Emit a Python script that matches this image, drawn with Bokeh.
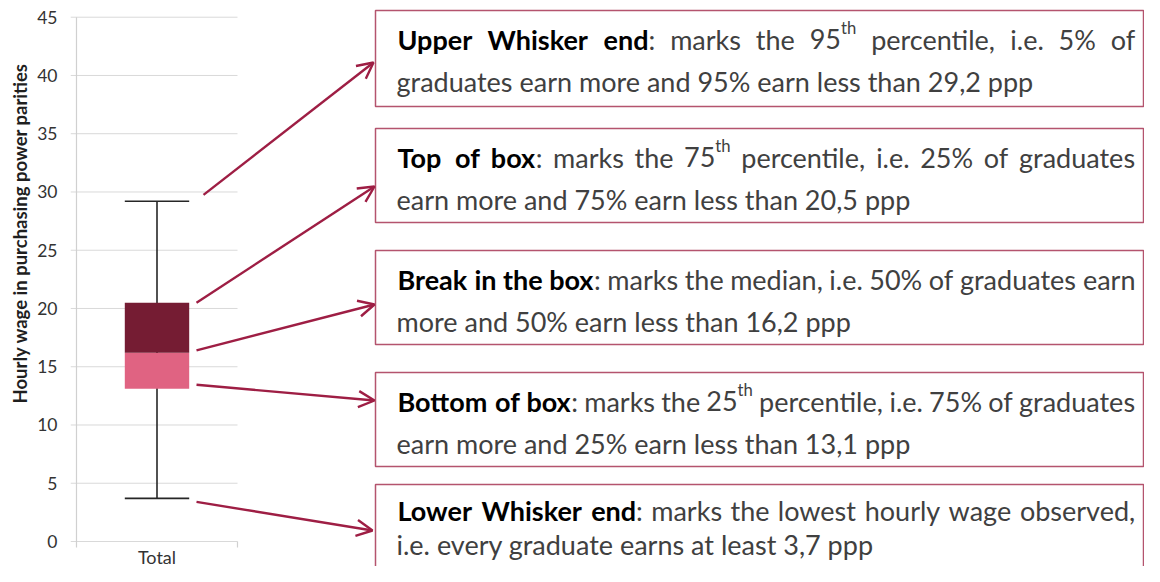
import os
import struct

from bokeh.plotting import figure
from bokeh.models import Range1d, LinearAxis, FixedTicker, ColumnDataSource, Arrow, OpenHead, Title
from bokeh.core.properties import value
from bokeh.embed import file_html
from bokeh.resources import INLINE

# ---------------- data ----------------
categories = ["Total"]
lower_whisker = [3.7]
q1 = [13.1]
median = [16.2]
q3 = [20.5]
upper_whisker = [29.2]
y_ticks = [0, 5, 10, 15, 20, 25, 30, 35, 40, 45]
y_title = "Hourly wage in purchasing power parities"


def fmt(v):
    return f"{v:.1f}".replace(".", ",")


# annotation texts (first line justified, second line left aligned)
notes = [
    ([("Upper Whisker end", "b"), (": marks the 95", "n"), ("th", "s"), (" percentile, i.e. 5% of", "n")],
     f"graduates earn more and 95% earn less than {fmt(upper_whisker[0])} ppp"),
    ([("Top of box", "b"), (": marks the 75", "n"), ("th", "s"), (" percentile, i.e. 25% of graduates", "n")],
     f"earn more and 75% earn less than {fmt(q3[0])} ppp"),
    ([("Break in the box", "b"), (": marks the median, i.e. 50% of graduates earn", "n")],
     f"more and 50% earn less than {fmt(median[0])} ppp"),
    ([("Bottom of box", "b"), (": marks the 25", "n"), ("th", "s"), (" percentile, i.e. 75% of graduates", "n")],
     f"earn more and 25% earn less than {fmt(q1[0])} ppp"),
    ([("Lower Whisker end", "b"), (": marks the lowest hourly wage observed,", "n")],
     f"i.e. every graduate earns at least {fmt(lower_whisker[0])} ppp"),
]
arrow_values = [upper_whisker[0], q3[0], median[0], q1[0], lower_whisker[0]]

# ---------------- layout helpers (canvas pixel -> data) ----------------
PX_X0, PX_PER_X = 76.0, 161.0
PX_Y0, PX_PER_Y = 541.0, 11.651


def X(px):
    return (px - PX_X0) / PX_PER_X


def Y(py):
    return (PX_Y0 - py) / PX_PER_Y


# ---------------- font metrics ----------------
def _u16(d, o):
    return struct.unpack(">H", d[o:o + 2])[0]


def _i16(d, o):
    return struct.unpack(">h", d[o:o + 2])[0]


def _u32(d, o):
    return struct.unpack(">I", d[o:o + 4])[0]


def font_advances(path):
    d = open(path, "rb").read()
    base = _u32(d, 12) if d[:4] == b"ttcf" else 0
    n = _u16(d, base + 4)
    tab = {}
    for i in range(n):
        r = base + 12 + 16 * i
        tab[d[r:r + 4].decode("latin1")] = _u32(d, r + 8)
    upem = _u16(d, tab["head"] + 18)
    nhm = _u16(d, tab["hhea"] + 34)
    hm = tab["hmtx"]
    cm = tab["cmap"]
    sub = None
    for i in range(_u16(d, cm + 2)):
        pid = _u16(d, cm + 4 + 8 * i)
        eid = _u16(d, cm + 6 + 8 * i)
        off = _u32(d, cm + 8 + 8 * i)
        if _u16(d, cm + off) == 4 and ((pid == 3 and eid == 1) or pid == 0):
            sub = cm + off
            break
    segx2 = _u16(d, sub + 6)
    ends = sub + 14
    starts = ends + segx2 + 2
    deltas = starts + segx2
    ros = deltas + segx2
    adv = {}
    for code in range(32, 127):
        gid = 0
        for k in range(segx2 // 2):
            if _u16(d, ends + 2 * k) >= code:
                st = _u16(d, starts + 2 * k)
                if st <= code:
                    ro = _u16(d, ros + 2 * k)
                    if ro == 0:
                        gid = (code + _i16(d, deltas + 2 * k)) & 0xFFFF
                    else:
                        g = _u16(d, ros + 2 * k + ro + 2 * (code - st))
                        gid = ((g + _i16(d, deltas + 2 * k)) & 0xFFFF) if g else 0
                break
        i = min(gid, nhm - 1)
        adv[chr(code)] = _u16(d, hm + 4 * i) / upem
    return adv


def find_font(fname):
    roots = ("/usr/share/fonts", "/usr/local/share/fonts",
             os.path.expanduser("~/.fonts"), os.path.expanduser("~/.local/share/fonts"))
    for root in roots:
        if os.path.isdir(root):
            for dp, dn, fn in os.walk(root):
                if fname in fn:
                    return os.path.join(dp, fname)
    return None


def approx_adv(scale):
    t = {}
    for code in range(32, 127):
        c = chr(code)
        if c == " ":
            w = 0.19
        elif c in "il.,:;'!|":
            w = 0.23
        elif c in "jftr":
            w = 0.33
        elif c in "mw%":
            w = 0.8
        elif c.isdigit():
            w = 0.58
        elif c.isupper():
            w = 0.65
        else:
            w = 0.51
        t[c] = w * scale
    return t


try:
    ADV_R = font_advances(find_font("Lato-Regular.ttf"))
except Exception:
    ADV_R = approx_adv(1.0)
try:
    ADV_B = font_advances(find_font("Lato-Bold.ttf"))
except Exception:
    ADV_B = {k: v * 1.03 for k, v in ADV_R.items()}


def em_width(t, adv):
    return sum(adv.get(c, 0.55) for c in t)


# font size fitted to the natural (left aligned) second lines
line2_targets = [637, 514, 454, 514, 480]
fits = [tw / em_width(n[1], ADV_R) for n, tw in zip(notes, line2_targets)]
SIZE = max(20.0, min(28.0, sum(fits) / len(fits)))
SUP = 0.62 * SIZE
SUP_RAISE = 0.42 * SIZE


def piece_w(t, st):
    if st == "b":
        return em_width(t, ADV_B) * SIZE
    if st == "s":
        return em_width(t, ADV_R) * SUP
    return em_width(t, ADV_R) * SIZE


# ---------------- figure ----------------
W, H = 1144, 566
FRAME_LEFT = 70
p = figure(width=W, height=H, output_backend="svg", toolbar_location=None,
           x_range=Range1d(X(FRAME_LEFT), X(W)), y_range=Range1d(Y(H), Y(0)),
           x_axis_location=None, y_axis_location=None, title=None,
           min_border_left=FRAME_LEFT, min_border_right=0, min_border_top=0, min_border_bottom=0)
p.outline_line_color = None
p.background_fill_color = "white"
p.border_fill_color = "white"
for g in list(p.renderers) + list(p.center):
    if g.__class__.__name__ == "Grid":
        g.visible = False

yaxis = LinearAxis(ticker=FixedTicker(ticks=y_ticks))
yaxis.axis_line_color = None
yaxis.major_tick_line_color = None
yaxis.minor_tick_line_color = None
yaxis.major_tick_out = 0
yaxis.major_tick_in = 0
yaxis.major_label_standoff = 13
yaxis.major_label_text_font = "Lato"
yaxis.major_label_text_font_size = "17.5px"
yaxis.major_label_text_color = "#333333"
p.add_layout(yaxis, "left")

# y axis title: starts (bottom end) at y=403 like the reference
p.add_layout(Title(text=y_title, align="left", offset=H - 403, text_font="Lato", text_font_style="bold",
                   text_font_size="18.5px", text_color="#1f1f1f", standoff=8), "left")

GRID = "#d9d9d9"
# horizontal gridlines (start with the outward tick)
p.segment(x0=[X(FRAME_LEFT)] * len(y_ticks), x1=[len(categories)] * len(y_ticks), y0=y_ticks, y1=y_ticks,
          line_color=GRID, line_width=1)
# vertical axis line and category boundary ticks
tick_drop = Y(547)
p.segment(x0=[0], x1=[0], y0=[tick_drop], y1=[y_ticks[-1]], line_color="#d0d0d0", line_width=1.2)
p.segment(x0=[len(categories)], x1=[len(categories)], y0=[tick_drop], y1=[0],
          line_color="#d0d0d0", line_width=1.2)

# box plot
xc = [i + 0.5 for i in range(len(categories))]
half = 0.2
src = ColumnDataSource(dict(x=xc, lw=lower_whisker, q1=q1, med=median, q3=q3, uw=upper_whisker,
                            l=[v - half for v in xc], r=[v + half for v in xc]))
p.segment(x0="x", x1="x", y0="lw", y1="uw", source=src, line_color="#262626", line_width=1.6)
p.segment(x0="l", x1="r", y0="uw", y1="uw", source=src, line_color="#262626", line_width=1.6)
p.segment(x0="l", x1="r", y0="lw", y1="lw", source=src, line_color="#262626", line_width=1.6)
p.quad(left="l", right="r", bottom="q1", top="med", source=src, fill_color="#e06382", line_color=None)
p.quad(left="l", right="r", bottom="med", top="q3", source=src, fill_color="#751c33", line_color=None)

# category label
p.text(x=xc, y=[Y(556)] * len(categories), text=categories, text_font=value("Lato"),
       text_font_size=value("18px"), text_color="#333333", text_align="center", text_baseline="middle")

# annotation boxes
box_tops = [10, 128, 250, 372, 484]
box_bottoms = [106, 222, 344, 466, 600]
base1_off = [28.5, 28.5, 28.5, 28.5, 26]
base2_off = [71, 71, 71, 71, 60]
BOX_L, BOX_R = 375, 1143
p.quad(left=[X(BOX_L)] * 5, right=[X(BOX_R)] * 5, top=[Y(t) for t in box_tops],
       bottom=[Y(b) for b in box_bottoms], fill_color=None, line_color="#b4546e", line_width=1.5)

# annotation text
styles = {"b": dict(x=[], y=[], t=[]), "n": dict(x=[], y=[], t=[]), "s": dict(x=[], y=[], t=[])}
L1_X0, L1_X1, L2_X0 = 397, 1135, 396
for (pieces, line2), top, o1, o2 in zip(notes, box_tops, base1_off, base2_off):
    base1 = top + o1
    base2 = top + o2
    words = [[]]
    for text, st in pieces:
        parts = text.split(" ")
        for i, part in enumerate(parts):
            if i > 0:
                words.append([])
            if part:
                words[-1].append((part, st))
    words = [w for w in words if w]
    total = sum(piece_w(t, st) for w in words for t, st in w)
    gap = (L1_X1 - L1_X0 - total) / (len(words) - 1)
    gap = max(gap, 0.2 * SIZE)
    x = L1_X0
    for w in words:
        for t, st in w:
            s = styles[st]
            s["x"].append(X(x))
            s["y"].append(Y(base1 - SUP_RAISE) if st == "s" else Y(base1))
            s["t"].append(t)
            x += piece_w(t, st)
        x += gap
    styles["n"]["x"].append(X(L2_X0))
    styles["n"]["y"].append(Y(base2))
    styles["n"]["t"].append(line2)

for st, color, fstyle, fsize in (("b", "#000000", "bold", SIZE), ("n", "#404040", "normal", SIZE),
                                  ("s", "#404040", "normal", SUP)):
    s = styles[st]
    p.text(x=s["x"], y=s["y"], text=s["t"], text_font=value("Lato"), text_font_style=fstyle,
           text_font_size=value(f"{fsize:.1f}px"), text_color=color,
           text_align="left", text_baseline="alphabetic")

# arrows
ARROW = "#9e1e44"
arrow_x0 = [203, 196, 196, 196, 196]
arrow_dy = [0.55, 0.0, 0.2, 0.35, -0.3]
arrow_end = [(373, 62), (374, 186), (374, 304), (374, 400), (372, 530)]
for v, x0, dy, (xe, ye) in zip(arrow_values, arrow_x0, arrow_dy, arrow_end):
    p.add_layout(Arrow(x_start=X(x0), y_start=v + dy, x_end=X(xe), y_end=Y(ye),
                       line_color=ARROW, line_width=2.4,
                       end=OpenHead(size=16, line_color=ARROW, line_width=2.4)))

open("out.html", "w").write(file_html(p, INLINE))
